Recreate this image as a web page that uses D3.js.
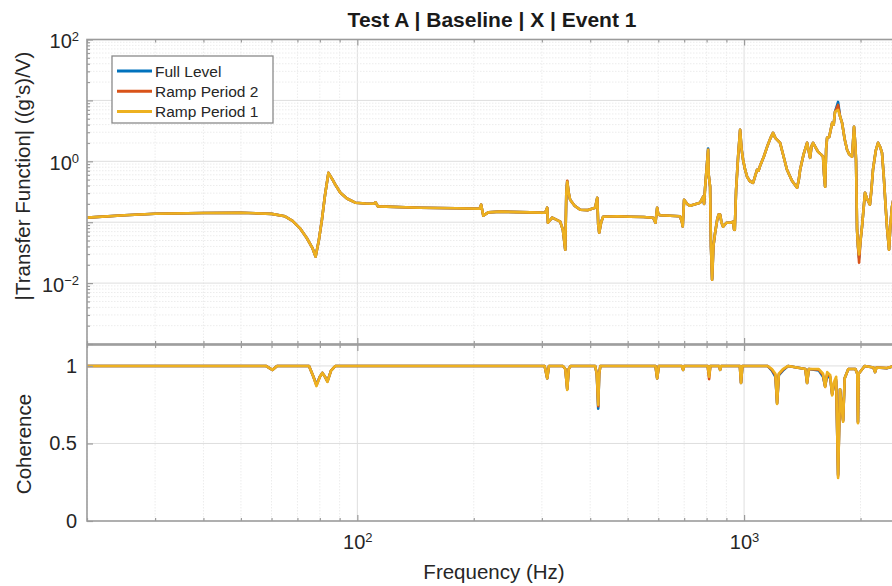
<!DOCTYPE html>
<html>
<head>
<meta charset="utf-8">
<script src="https://cdn.jsdelivr.net/npm/d3@7"></script>
<style>
body { margin: 0; background: #fff; }
svg { display: block; font-family: "Liberation Sans", Arial, sans-serif; }
</style>
</head>
<body>
<svg id="chart" width="892" height="586"></svg>
<script>
const seriesNames = ["Full Level", "Ramp Period 2", "Ramp Period 1"]
const seriesColors = ["#0072BD", "#D95319", "#EDB120"]

// transfer function magnitude
const tfFreq = [
  20, 25, 30, 40, 50, 60, 65, 68, 71, 74,
  76.5, 78, 79.5, 81, 82.5, 84.2, 86, 88, 90.4, 94,
  98.8, 105, 110, 111.5, 113, 145, 180, 207, 209, 211.7,
  218, 234, 280, 306, 309.7, 311, 319, 334.6, 340, 344.8,
  347, 348.9, 352, 355, 365, 377, 395, 412, 417.2, 419.6,
  422, 427, 432, 470, 507.6, 550, 582, 590, 596, 600,
  606.7, 683, 691.3, 694, 699.6, 712, 725, 769.6, 783.5, 788,
  792.8, 807.2, 810, 816.8, 821, 826.6, 833, 841.6, 852, 859,
  867, 874, 882.6, 900, 920, 936.7, 942.3, 946, 953.5, 965,
  976.5, 985, 994, 1005, 1018, 1035, 1055, 1080, 1090, 1100,
  1125, 1147, 1170, 1188, 1205, 1239, 1265, 1291, 1330, 1371,
  1385, 1396, 1425, 1455, 1481, 1495, 1508, 1530, 1554, 1580,
  1600, 1610, 1620, 1630, 1639, 1660, 1689, 1705, 1718, 1750,
  1770, 1792, 1820, 1846, 1870, 1902, 1924, 1940, 1947, 1953,
  1959, 1970, 1983, 2000, 2018, 2054, 2080, 2115, 2135, 2154,
  2190, 2220, 2250, 2273, 2300, 2320, 2341, 2370, 2390, 2412,
  2450
]
const tfFull = [
  0.119, 0.130, 0.138, 0.142, 0.143, 0.137, 0.125, 0.105, 0.080, 0.055,
  0.038, 0.0272, 0.050, 0.11, 0.28, 0.647, 0.52, 0.40, 0.305, 0.245,
  0.209, 0.203, 0.201, 0.212, 0.182, 0.173, 0.169, 0.166, 0.194, 0.128,
  0.145, 0.149, 0.145, 0.143, 0.173, 0.098, 0.119, 0.102, 0.075, 0.0354,
  0.30, 0.47, 0.30, 0.234, 0.185, 0.160, 0.158, 0.173, 0.252, 0.091,
  0.0673, 0.10, 0.123, 0.125, 0.123, 0.122, 0.118, 0.098, 0.173, 0.135,
  0.130, 0.125, 0.098, 0.085, 0.234, 0.200, 0.186, 0.209, 0.262, 0.20,
  0.368, 1.62, 0.60, 0.382, 0.04, 0.0114, 0.04, 0.0673, 0.11, 0.133,
  0.133, 0.10, 0.0843, 0.098, 0.098, 0.102, 0.0754, 0.075, 0.341, 1.19,
  3.28, 1.6, 1.06, 0.75, 0.557, 0.47, 0.444, 0.726, 0.70, 0.844,
  1.2, 1.73, 2.4, 2.93, 2.4, 2.01, 1.2, 0.726, 0.48, 0.368,
  0.5, 0.726, 1.3, 2.01, 1.14, 1.8, 2.01, 1.7, 1.43, 1.3,
  1.19, 0.6, 0.382, 1.6, 2.43, 2.5, 4.27, 4.0, 6.47, 9.44,
  5.5, 4.27, 2.3, 1.55, 1.3, 1.19, 3.68, 1.8, 1.06, 0.3,
  0.0754, 0.04, 0.026, 0.05, 0.0843, 0.305, 0.24, 0.194, 0.35, 0.726,
  1.5, 2.01, 1.7, 1.38, 0.498, 0.2, 0.0843, 0.0354, 0.09, 0.18,
  0.3
]
const tfRamp2 = [
  0.119, 0.130, 0.138, 0.142, 0.143, 0.137, 0.125, 0.105, 0.080, 0.055,
  0.038, 0.0272, 0.050, 0.11, 0.28, 0.647, 0.52, 0.40, 0.305, 0.245,
  0.209, 0.203, 0.201, 0.212, 0.182, 0.173, 0.169, 0.166, 0.194, 0.128,
  0.145, 0.149, 0.145, 0.143, 0.173, 0.098, 0.119, 0.102, 0.075, 0.0354,
  0.30, 0.48, 0.30, 0.234, 0.185, 0.160, 0.158, 0.173, 0.252, 0.091,
  0.0673, 0.10, 0.123, 0.125, 0.123, 0.122, 0.118, 0.098, 0.173, 0.135,
  0.130, 0.125, 0.098, 0.085, 0.234, 0.200, 0.186, 0.209, 0.262, 0.20,
  0.368, 1.55, 0.60, 0.382, 0.04, 0.0114, 0.04, 0.0673, 0.11, 0.133,
  0.133, 0.10, 0.0843, 0.098, 0.098, 0.102, 0.0754, 0.075, 0.341, 1.19,
  3.28, 1.6, 1.06, 0.75, 0.557, 0.47, 0.444, 0.726, 0.70, 0.844,
  1.2, 1.73, 2.4, 2.93, 2.4, 2.01, 1.2, 0.726, 0.48, 0.368,
  0.5, 0.726, 1.3, 2.01, 1.14, 1.8, 2.01, 1.7, 1.43, 1.3,
  1.19, 0.6, 0.382, 1.6, 2.43, 2.5, 4.27, 4.0, 6.47, 8.43,
  5.5, 4.27, 2.3, 1.55, 1.3, 1.19, 3.68, 1.8, 1.06, 0.3,
  0.0754, 0.04, 0.0217, 0.05, 0.0843, 0.305, 0.24, 0.194, 0.35, 0.726,
  1.5, 2.01, 1.7, 1.38, 0.498, 0.2, 0.0843, 0.0354, 0.09, 0.18,
  0.3
]
const tfRamp1 = [
  0.119, 0.130, 0.138, 0.142, 0.143, 0.137, 0.125, 0.105, 0.080, 0.055,
  0.038, 0.0272, 0.050, 0.11, 0.28, 0.647, 0.52, 0.40, 0.305, 0.245,
  0.209, 0.203, 0.201, 0.212, 0.182, 0.173, 0.169, 0.166, 0.194, 0.128,
  0.145, 0.149, 0.145, 0.143, 0.173, 0.098, 0.119, 0.102, 0.075, 0.0354,
  0.30, 0.461, 0.30, 0.234, 0.185, 0.160, 0.158, 0.173, 0.252, 0.091,
  0.0673, 0.10, 0.123, 0.125, 0.123, 0.122, 0.118, 0.098, 0.173, 0.135,
  0.130, 0.125, 0.098, 0.085, 0.234, 0.200, 0.186, 0.209, 0.262, 0.20,
  0.368, 1.55, 0.60, 0.382, 0.04, 0.0114, 0.04, 0.0673, 0.11, 0.133,
  0.133, 0.10, 0.0843, 0.098, 0.098, 0.102, 0.0754, 0.075, 0.341, 1.19,
  3.28, 1.6, 1.06, 0.75, 0.557, 0.47, 0.444, 0.726, 0.70, 0.844,
  1.2, 1.73, 2.4, 2.93, 2.4, 2.01, 1.2, 0.726, 0.48, 0.368,
  0.5, 0.726, 1.3, 2.01, 1.14, 1.8, 2.01, 1.7, 1.43, 1.3,
  1.19, 0.6, 0.382, 1.6, 2.43, 2.5, 4.27, 4.0, 6.47, 6.98,
  5.5, 4.27, 2.3, 1.55, 1.3, 1.19, 3.68, 1.8, 1.06, 0.3,
  0.0754, 0.04, 0.0295, 0.05, 0.0843, 0.305, 0.24, 0.194, 0.35, 0.726,
  1.5, 2.01, 1.7, 1.38, 0.498, 0.2, 0.0843, 0.0354, 0.09, 0.18,
  0.3
]

// coherence
const cohFreq = [
  20, 55, 58, 60.3, 62, 75, 77, 78.4, 80, 81.2,
  82.5, 83.7, 85.5, 87.8, 300, 305, 309.7, 313, 340, 345,
  348.9, 352, 356, 412, 416, 419.6, 422, 425, 590, 596,
  602, 690, 695.5, 700, 805, 812, 818, 862, 867, 872,
  975, 982, 990, 1150, 1180, 1205, 1217, 1230, 1260, 1300,
  1440, 1455, 1470, 1560, 1600, 1620, 1640, 1670, 1689, 1710,
  1730, 1750, 1770, 1803, 1820, 1860, 1940, 1962, 1970, 1978,
  2050, 2160, 2181, 2200, 2341, 2450
]
const cohFull = [
  1, 1, 1, 0.974, 1, 1, 0.93, 0.88, 0.93, 0.955,
  0.93, 0.90, 0.97, 1, 1, 1, 0.92, 1, 1, 0.98,
  0.85, 0.98, 1, 1, 0.95, 0.725, 0.95, 1, 1, 0.92,
  1, 1, 0.974, 1, 1, 0.94, 1, 1, 0.975, 1,
  1, 0.89, 1, 1, 0.97, 0.93, 0.76, 0.94, 0.97, 1,
  0.98, 0.89, 0.98, 0.97, 0.93, 0.87, 0.94, 0.92, 0.82, 0.88,
  0.9, 0.3, 0.85, 0.65, 0.92, 0.98, 0.98, 0.95, 0.64, 0.95,
  1, 0.99, 0.96, 0.99, 0.985, 1
]
const cohRamp2 = [
  1, 1, 1, 0.974, 1, 1, 0.93, 0.875, 0.93, 0.955,
  0.93, 0.90, 0.97, 1, 1, 1, 0.92, 1, 1, 0.98,
  0.85, 0.98, 1, 1, 0.95, 0.74, 0.95, 1, 1, 0.92,
  1, 1, 0.974, 1, 1, 0.915, 1, 1, 0.975, 1,
  1, 0.89, 1, 1, 0.975, 0.94, 0.76, 0.945, 0.975, 1,
  0.98, 0.89, 0.98, 0.975, 0.94, 0.865, 0.95, 0.93, 0.815, 0.89,
  0.91, 0.29, 0.85, 0.645, 0.92, 0.98, 0.98, 0.95, 0.635, 0.95,
  1, 0.99, 0.96, 0.99, 0.986, 1
]
const cohRamp1 = [
  1, 1, 1, 0.974, 1, 1, 0.93, 0.87, 0.93, 0.955,
  0.93, 0.897, 0.97, 1, 1, 1, 0.92, 1, 1, 0.98,
  0.845, 0.98, 1, 1, 0.95, 0.75, 0.95, 1, 1, 0.92,
  1, 1, 0.974, 1, 1, 0.93, 1, 1, 0.975, 1,
  1, 0.89, 1, 1, 0.98, 0.95, 0.755, 0.95, 0.98, 1,
  0.98, 0.89, 0.98, 0.98, 0.95, 0.865, 0.96, 0.94, 0.81, 0.9,
  0.93, 0.277, 0.85, 0.64, 0.92, 0.98, 0.98, 0.95, 0.63, 0.95,
  1, 0.99, 0.96, 0.99, 0.987, 1
]

const xMajor = [100, 1000]
const magMajor = [1e-2, 1, 1e2]
const cohMajor = [0, 0.5, 1]

const titleText = "Test A | Baseline | X | Event 1"

let svg = d3.select("#chart")

let left = 87, right = 898
let topY0 = 39.5, topY1 = 344
let botY0 = 345, botY1 = 521

let x = d3.scaleLog().domain([20, 2500]).range([left, right])
let yMag = d3.scaleLog().domain([1e-3, 1e2]).range([topY1, topY0])
let yCoh = d3.scaleLinear().domain([0, 1.135]).range([botY1, botY0])

let xMinor = x.ticks().filter(v => !xMajor.includes(v))
let magAll = yMag.ticks()
let magDecades = magAll.filter(v => Math.abs(Math.log10(v) - Math.round(Math.log10(v))) < 1e-9)
let magMinor = magAll.filter(v => !magDecades.includes(v))

const gridMinor = "#ececec"
const gridMajor = "#dedede"
const axisColor = "#9b9b9b"

svg.append("rect").attr("width", 892).attr("height", 586).attr("fill", "#fff")

let defs = svg.append("defs")
defs.append("clipPath").attr("id", "clipTop").append("rect")
  .attr("x", left).attr("y", topY0).attr("width", right - left).attr("height", topY1 - topY0)
defs.append("clipPath").attr("id", "clipBot").append("rect")
  .attr("x", left).attr("y", botY0).attr("width", right - left).attr("height", botY1 - botY0)

// grids
const drawGrid = (y0, y1, hLines, hColor, dash) => {
  let g = svg.append("g")
  g.selectAll(".vmin").data(xMinor).enter().append("line")
    .attr("x1", d => x(d)).attr("x2", d => x(d)).attr("y1", y0).attr("y2", y1)
    .attr("stroke", gridMinor).attr("stroke-dasharray", "1.5,1.5")
  g.selectAll(".vmaj").data(xMajor).enter().append("line")
    .attr("x1", d => x(d)).attr("x2", d => x(d)).attr("y1", y0).attr("y2", y1)
    .attr("stroke", gridMajor)
  return g
}

let gTop = drawGrid(topY0, topY1)
gTop.selectAll(".hmin").data(magMinor).enter().append("line")
  .attr("x1", left).attr("x2", right).attr("y1", d => yMag(d)).attr("y2", d => yMag(d))
  .attr("stroke", gridMinor).attr("stroke-dasharray", "1.5,1.5")
gTop.selectAll(".hmaj").data(magDecades).enter().append("line")
  .attr("x1", left).attr("x2", right).attr("y1", d => yMag(d)).attr("y2", d => yMag(d))
  .attr("stroke", gridMajor)

let gBot = drawGrid(botY0, botY1)
gBot.selectAll(".hmaj").data([0.5, 1]).enter().append("line")
  .attr("x1", left).attr("x2", right).attr("y1", d => yCoh(d)).attr("y2", d => yCoh(d))
  .attr("stroke", gridMajor)

// series
const zip = (f, v) => f.map((d, i) => [d, v[i]])
let tfSeries = [tfFull, tfRamp2, tfRamp1]
let cohSeries = [cohFull, cohRamp2, cohRamp1]

let lineTop = d3.line().x(d => x(d[0])).y(d => yMag(d[1]))
let lineBot = d3.line().x(d => x(d[0])).y(d => yCoh(d[1]))

let gLinesTop = svg.append("g").attr("clip-path", "url(#clipTop)")
let gLinesBot = svg.append("g").attr("clip-path", "url(#clipBot)")

tfSeries.forEach((s, i) => {
  gLinesTop.append("path")
    .datum(zip(tfFreq, s))
    .attr("d", lineTop)
    .attr("fill", "none")
    .attr("stroke", seriesColors[i])
    .attr("stroke-width", 2.6)
    .attr("stroke-linejoin", "round")
})
cohSeries.forEach((s, i) => {
  gLinesBot.append("path")
    .datum(zip(cohFreq, s))
    .attr("d", lineBot)
    .attr("fill", "none")
    .attr("stroke", seriesColors[i])
    .attr("stroke-width", 2.6)
    .attr("stroke-linejoin", "round")
})

// axes with inward ticks
const styleAxis = g => {
  g.select(".domain").remove()
  g.selectAll(".tick line").attr("stroke", axisColor).attr("stroke-width", 1.2)
}

const supLabel = (sel, expOf) => {
  sel.each(function (d) {
    let t = d3.select(this)
    t.text("")
    t.append("tspan").text("10")
    let e = expOf(d)
    t.append("tspan").attr("dy", "-0.55em").attr("font-size", "13px")
      .text(e < 0 ? "\u2212" + (-e) : "" + e)
  })
}

// x axes (top panel)
svg.append("g").attr("transform", `translate(0,${topY1})`)
  .call(d3.axisBottom(x).tickValues(xMinor).tickSizeInner(-3).tickSizeOuter(0).tickFormat(""))
  .call(styleAxis)
svg.append("g").attr("transform", `translate(0,${topY1})`)
  .call(d3.axisBottom(x).tickValues(xMajor).tickSizeInner(-6).tickSizeOuter(0).tickFormat(""))
  .call(styleAxis)
svg.append("g").attr("transform", `translate(0,${topY0})`)
  .call(d3.axisTop(x).tickValues(xMinor).tickSizeInner(-3).tickSizeOuter(0).tickFormat(""))
  .call(styleAxis)
svg.append("g").attr("transform", `translate(0,${topY0})`)
  .call(d3.axisTop(x).tickValues(xMajor).tickSizeInner(-6).tickSizeOuter(0).tickFormat(""))
  .call(styleAxis)

// x axes (bottom panel)
svg.append("g").attr("transform", `translate(0,${botY0})`)
  .call(d3.axisTop(x).tickValues(xMinor).tickSizeInner(-3).tickSizeOuter(0).tickFormat(""))
  .call(styleAxis)
svg.append("g").attr("transform", `translate(0,${botY0})`)
  .call(d3.axisTop(x).tickValues(xMajor).tickSizeInner(-6).tickSizeOuter(0).tickFormat(""))
  .call(styleAxis)
svg.append("g").attr("transform", `translate(0,${botY1})`)
  .call(d3.axisBottom(x).tickValues(xMinor).tickSizeInner(-3).tickSizeOuter(0).tickFormat(""))
  .call(styleAxis)
let xAxisBot = svg.append("g").attr("transform", `translate(0,${botY1})`)
  .call(d3.axisBottom(x).tickValues(xMajor).tickSizeInner(-6).tickSizeOuter(0).tickPadding(14))
  .call(styleAxis)
xAxisBot.selectAll(".tick text")
  .attr("font-size", "20px").attr("fill", "#262626").attr("font-family", "Liberation Sans, Arial, sans-serif")
  .call(supLabel, d => Math.round(Math.log10(d)))

// y axis top panel
svg.append("g").attr("transform", `translate(${left},0)`)
  .call(d3.axisLeft(yMag).tickValues(magMinor).tickSizeInner(-3).tickSizeOuter(0).tickFormat(""))
  .call(styleAxis)
let yAxisTop = svg.append("g").attr("transform", `translate(${left},0)`)
  .call(d3.axisLeft(yMag).tickValues(magDecades).tickSizeInner(-6).tickSizeOuter(0).tickPadding(8)
    .tickFormat(d => magMajor.includes(d) ? "x" : ""))
  .call(styleAxis)
yAxisTop.selectAll(".tick text").filter(d => magMajor.includes(d))
  .attr("font-size", "20px").attr("fill", "#262626").attr("font-family", "Liberation Sans, Arial, sans-serif")
  .attr("dy", "0.42em")
  .call(supLabel, d => Math.round(Math.log10(d)))

// y axis bottom panel
let yAxisBot = svg.append("g").attr("transform", `translate(${left},0)`)
  .call(d3.axisLeft(yCoh).tickValues(cohMajor).tickSizeInner(-6).tickSizeOuter(0).tickPadding(10)
    .tickFormat(d => d3.format("")(d)))
  .call(styleAxis)
yAxisBot.selectAll(".tick text")
  .attr("font-size", "20px").attr("fill", "#262626").attr("font-family", "Liberation Sans, Arial, sans-serif")

// panel borders
svg.append("rect").attr("x", left).attr("y", topY0).attr("width", right - left).attr("height", topY1 - topY0)
  .attr("fill", "none").attr("stroke", axisColor).attr("stroke-width", 1.6)
svg.append("rect").attr("x", left).attr("y", botY0).attr("width", right - left).attr("height", botY1 - botY0)
  .attr("fill", "none").attr("stroke", axisColor).attr("stroke-width", 1.6)

// legend
let legend = svg.append("g")
legend.append("rect").attr("x", 112).attr("y", 56).attr("width", 161).attr("height", 67)
  .attr("fill", "#fff").attr("stroke", "#8a8a8a").attr("stroke-width", 1.3)
seriesNames.forEach((name, i) => {
  let yy = 71 + i * 20.2
  legend.append("line").attr("x1", 117).attr("x2", 152).attr("y1", yy).attr("y2", yy)
    .attr("stroke", seriesColors[i]).attr("stroke-width", 3)
  legend.append("text").attr("x", 155).attr("y", yy + 5.5)
    .attr("font-size", "15.5px").attr("fill", "#262626").text(name)
})

// titles and labels
svg.append("text").attr("x", 492).attr("y", 27).attr("text-anchor", "middle")
  .attr("font-size", "21px").attr("font-weight", "bold").attr("fill", "#1a1a1a").text(titleText)

svg.append("text").attr("x", 494).attr("y", 579).attr("text-anchor", "middle")
  .attr("font-size", "20.5px").attr("fill", "#262626").text("Frequency (Hz)")

svg.append("text").attr("transform", "translate(30,176) rotate(-90)").attr("text-anchor", "middle")
  .attr("font-size", "20.5px").attr("fill", "#262626").text("|Transfer Function| ((g\u2019s)/V)")

svg.append("text").attr("transform", "translate(31,444) rotate(-90)").attr("text-anchor", "middle")
  .attr("font-size", "20.5px").attr("fill", "#262626").text("Coherence")
</script>
</body>
</html>
